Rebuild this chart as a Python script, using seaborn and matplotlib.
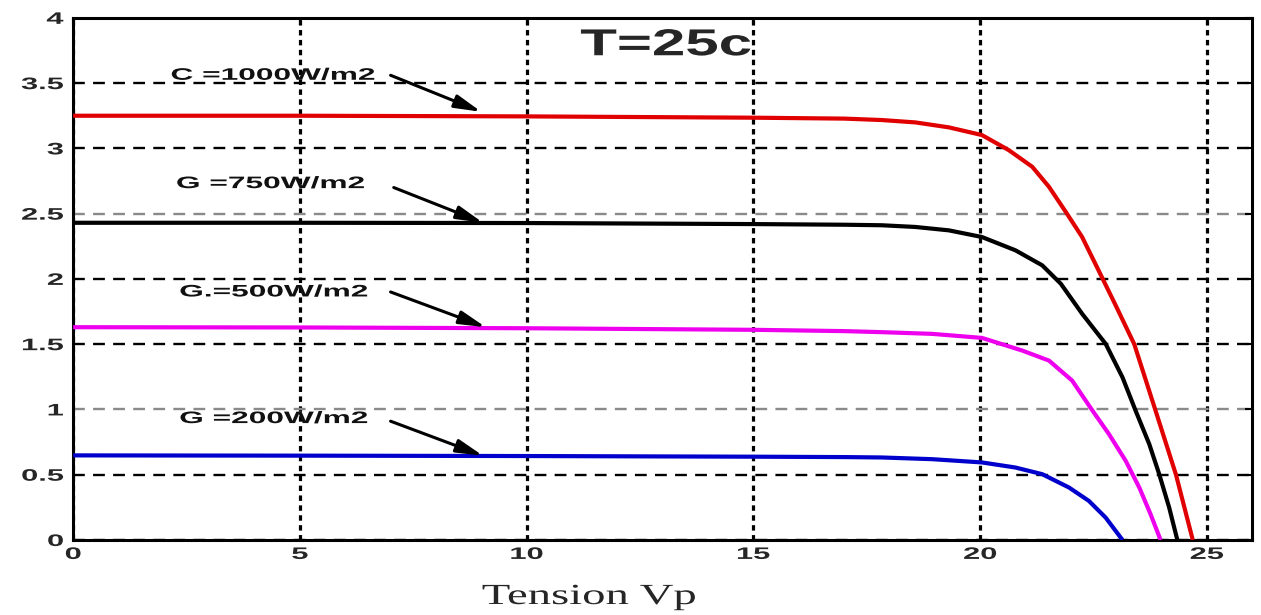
import numpy as np
import pandas as pd
import seaborn as sns
import matplotlib
matplotlib.use("Agg")
import matplotlib.pyplot as plt
from matplotlib.patheffects import AbstractPathEffect
from matplotlib.transforms import Affine2D

# I-V characteristics of the PV module for several irradiance levels (T = 25 °C)
irradiance = ["1000", "750", "500", "200"]

v_1000 = [0, 5, 10, 15, 17.0, 17.83, 18.57, 19.31, 20.04, 20.63, 21.15, 21.52, 21.89,
          22.25, 22.62, 23.0, 23.4, 23.87, 24.32, 24.69]
i_1000 = [3.25, 3.25, 3.245, 3.235, 3.228, 3.217, 3.199, 3.161, 3.102, 2.987, 2.859, 2.705, 2.513,
          2.321, 2.06, 1.79, 1.50, 0.99, 0.50, 0.0]

v_750 = [0, 5, 10, 15, 17.0, 17.83, 18.57, 19.31, 20.04, 20.78, 21.37, 21.78, 22.25, 22.77,
         23.14, 23.43, 23.73, 23.95, 24.17, 24.35]
i_750 = [2.43, 2.43, 2.428, 2.42, 2.415, 2.411, 2.398, 2.372, 2.321, 2.219, 2.104, 1.963, 1.733, 1.502,
         1.246, 0.990, 0.735, 0.504, 0.248, 0.0]

v_500 = [0, 5, 10, 15, 17.0, 17.83, 18.94, 20.04, 20.93, 21.52, 22.03, 22.48, 22.84, 23.21,
         23.51, 23.76, 23.98]
i_500 = [1.63, 1.628, 1.622, 1.61, 1.60, 1.592, 1.579, 1.548, 1.451, 1.374, 1.221, 0.990, 0.812, 0.607,
         0.402, 0.197, 0.0]

v_200 = [0, 5, 10, 15, 17.0, 17.83, 18.94, 20.04, 20.78, 21.37, 21.96, 22.40, 22.77, 23.14]
i_200 = [0.648, 0.646, 0.643, 0.638, 0.635, 0.632, 0.619, 0.594, 0.555, 0.504, 0.402, 0.299, 0.171, 0.0]

labels = ["C =1000W/m2", "G =750W/m2", "G.=500W/m2", "G =200W/m2"]
label_xy = [(4.4, 3.56), (4.35, 2.73), (4.42, 1.90), (4.42, 0.93)]
arrow_start = [(7.0, 3.56), (7.07, 2.70), (7.0, 1.90), (7.0, 0.91)]
arrow_end = [(9.0, 3.28), (9.04, 2.43), (9.1, 1.63), (9.04, 0.645)]

x_ticks = [0, 5, 10, 15, 20, 25]
x_ticklabels = ["0", "5", "10", "15", "20", "25"]
y_ticks = [0, 0.5, 1, 1.5, 2, 2.5, 3, 3.5, 4]
y_ticklabels = ["0", "0.5", "1", "1.5", "2", "2.5", "3", "3.5", "4"]


class HStretch(AbstractPathEffect):
    """Widen glyph outlines horizontally about a fraction of their extent."""

    def __init__(self, sx, anchor=0.5):
        super().__init__()
        self.sx = sx
        self.anchor = anchor

    def draw_path(self, renderer, gc, tpath, affine, rgbFace=None):
        ext = tpath.get_extents()
        cx = ext.x0 + self.anchor * (ext.x1 - ext.x0)
        pre = Affine2D().translate(-cx, 0).scale(self.sx, 1).translate(cx, 0)
        renderer.draw_path(gc, tpath, pre + affine, rgbFace)


frames = []
for g, v, i in zip(irradiance, [v_1000, v_750, v_500, v_200], [i_1000, i_750, i_500, i_200]):
    frames.append(pd.DataFrame({"V": v, "I": i, "G": g}))
df = pd.concat(frames, ignore_index=True)

sns.set_style("white")
plt.rcParams["font.family"] = ["Liberation Sans", "DejaVu Sans"]

fig = plt.figure(figsize=(12.61, 6.15), dpi=100)
ax = fig.add_axes([0.058, 0.122, 0.935, 0.849])

palette = {"1000": "#e00000", "750": "#000000", "500": "#ee00ee", "200": "#0000cc"}
sns.lineplot(data=df, x="V", y="I", hue="G", palette=palette, sort=False,
             linewidth=3.0, legend=False, ax=ax, zorder=3)
for ln in ax.get_lines():
    ln.set_solid_joinstyle("round")
    ln.set_solid_capstyle("butt")

ax.set_xlim(0, 26)
ax.set_ylim(0, 4)
ax.set_xticks(x_ticks)
ax.set_xticklabels(x_ticklabels, fontweight="bold", fontsize=12)
ax.set_yticks(y_ticks)
ax.set_yticklabels(y_ticklabels, fontweight="bold", fontsize=12)
ax.tick_params(axis="x", direction="in", length=5, width=1.5, color="black",
               top=True, pad=5)
ax.tick_params(axis="y", direction="in", length=5, width=1.5, color="black",
               right=True, pad=7)
for t in ax.get_xticklabels():
    t.set_path_effects([HStretch(1.85, 0.5)])
for t in ax.get_yticklabels():
    t.set_path_effects([HStretch(1.85, 1.0)])

# dashed horizontal grid, dotted vertical grid
ax.yaxis.grid(True, linestyle=(0, (5, 3.5)), color="black", linewidth=1.7)
ax.xaxis.grid(True, linestyle=(0, (1.7, 1.4)), color="black", linewidth=2.3)
for k, gl in enumerate(ax.yaxis.get_gridlines()):
    if y_ticks[k] in (1, 2.5):
        gl.set_color("#8a8a8a")
ax.set_axisbelow(True)

for s in ax.spines.values():
    s.set_color("black")
    s.set_linewidth(2.2)
    s.set_visible(True)

ax.set_xlabel("")
ax.set_ylabel("")
fig.text(589 / 1261, 1 - 597 / 615, "Tension Vp", family=["Liberation Serif", "DejaVu Serif"],
         fontsize=21, ha="center", va="center", path_effects=[HStretch(1.6, 0.5)])

for lab, xy, a0, a1 in zip(labels, label_xy, arrow_start, arrow_end):
    ax.text(xy[0], xy[1], lab, fontsize=12, fontweight="bold", ha="center", va="center",
            color="#111111", zorder=4, path_effects=[HStretch(1.9, 0.5)])
    ax.annotate("", xy=a1, xytext=a0,
                arrowprops=dict(arrowstyle="-|>,head_length=1.6,head_width=0.4",
                                color="black", lw=2.2, shrinkA=0, shrinkB=0), zorder=4)

ax.text(13.07, 3.79, "T=25c", fontsize=27, fontweight="bold", ha="center", va="center",
        zorder=4, path_effects=[HStretch(1.6, 0.5)])

fig.savefig("out.png", dpi=100)
